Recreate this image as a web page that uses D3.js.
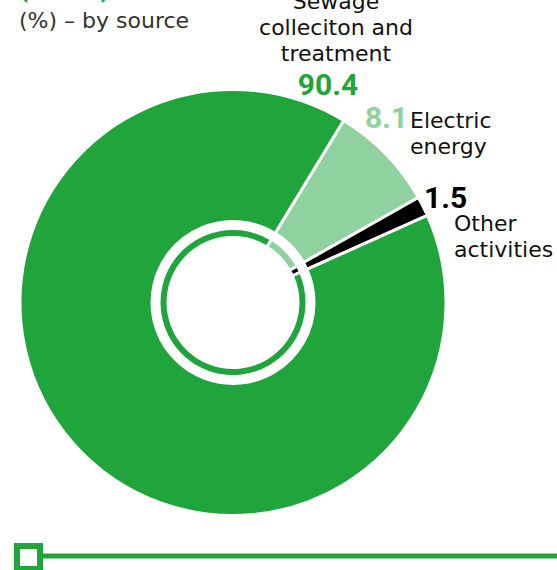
<!DOCTYPE html>
<html>
<head>
<meta charset="utf-8">
<script src="https://cdn.jsdelivr.net/npm/d3@7"></script>
<style>
  body { margin: 0; background: #fff; }
  svg { display: block; }
</style>
</head>
<body>
<div id="chart"></div>
<script>
// data
var sources = ["Electric energy", "Other activities", "Sewage colleciton and treatment"];
var shares = [8.1, 1.5, 90.4];
var valueLabels = ["8.1", "1.5", "90.4"];
var colours = ["#8fd2a0", "#000000", "#1fa53b"];

var width = 557, height = 570;
var cx = 233, cy = 302.5;
var green = "#1fa53b";

var svg = d3.select("#chart").append("svg")
    .attr("width", width)
    .attr("height", height);

// title (mostly cut off at the top of the frame)
svg.append("text")
    .attr("x", 19).attr("y", -3)
    .attr("font-family", "Roboto")
    .attr("font-weight", "bold")
    .attr("font-size", 26)
    .attr("fill", green)
    .text("(tCO2e)");

svg.append("text")
    .attr("x", 19).attr("y", 28)
    .attr("font-family", "DejaVu Sans")
    .attr("font-size", 22)
    .attr("fill", "#333")
    .text("(%) – by source");

var pie = d3.pie().sort(null).value(function(d) { return d; })
    .startAngle(31.3 * Math.PI / 180)
    .endAngle(31.3 * Math.PI / 180 + 2 * Math.PI);

var arcs = pie(shares);

var g = svg.append("g").attr("transform", "translate(" + cx + "," + cy + ")");

var outerArc = d3.arc().innerRadius(81).outerRadius(213);
var innerArc = d3.arc().innerRadius(65).outerRadius(74);

g.selectAll(".outer").data(arcs).enter()
    .append("path")
    .attr("class", "outer")
    .attr("d", outerArc)
    .attr("fill", function(d, i) { return colours[i]; })
    .attr("stroke", "#fff")
    .attr("stroke-width", 3);

g.selectAll(".inner").data(arcs).enter()
    .append("path")
    .attr("class", "inner")
    .attr("d", innerArc)
    .attr("fill", function(d, i) { return colours[i]; })
    .attr("stroke", "#fff")
    .attr("stroke-width", 3);

// labels
function label(lines, x, y, anchor) {
    var t = svg.append("text")
        .attr("font-family", "DejaVu Sans")
        .attr("font-size", 22)
        .attr("fill", "#111")
        .attr("text-anchor", anchor);
    lines.forEach(function(s, i) {
        t.append("tspan").attr("x", x).attr("y", y + i * 26).text(s);
    });
}

function value(i, x, y, anchor) {
    svg.append("text")
        .attr("x", x).attr("y", y)
        .attr("font-family", "Roboto")
        .attr("font-weight", "bold")
        .attr("font-size", 30)
        .attr("fill", colours[i])
        .attr("text-anchor", anchor)
        .text(valueLabels[i]);
}

label(["Sewage", "colleciton and", "treatment"], 336, 9, "middle");
value(2, 328, 95, "middle");

value(0, 408, 128, "end");
label(["Electric", "energy"], 410, 128, "start");

value(1, 424, 208, "start");
label(["Other", "activities"], 454, 231, "start");

// bottom rule with square marker
svg.append("line")
    .attr("x1", 40).attr("x2", width)
    .attr("y1", 556).attr("y2", 556)
    .attr("stroke", green)
    .attr("stroke-width", 5);

svg.append("rect")
    .attr("x", 17).attr("y", 546)
    .attr("width", 23).attr("height", 23)
    .attr("fill", "#fff")
    .attr("stroke", green)
    .attr("stroke-width", 6);
</script>
</body>
</html>
